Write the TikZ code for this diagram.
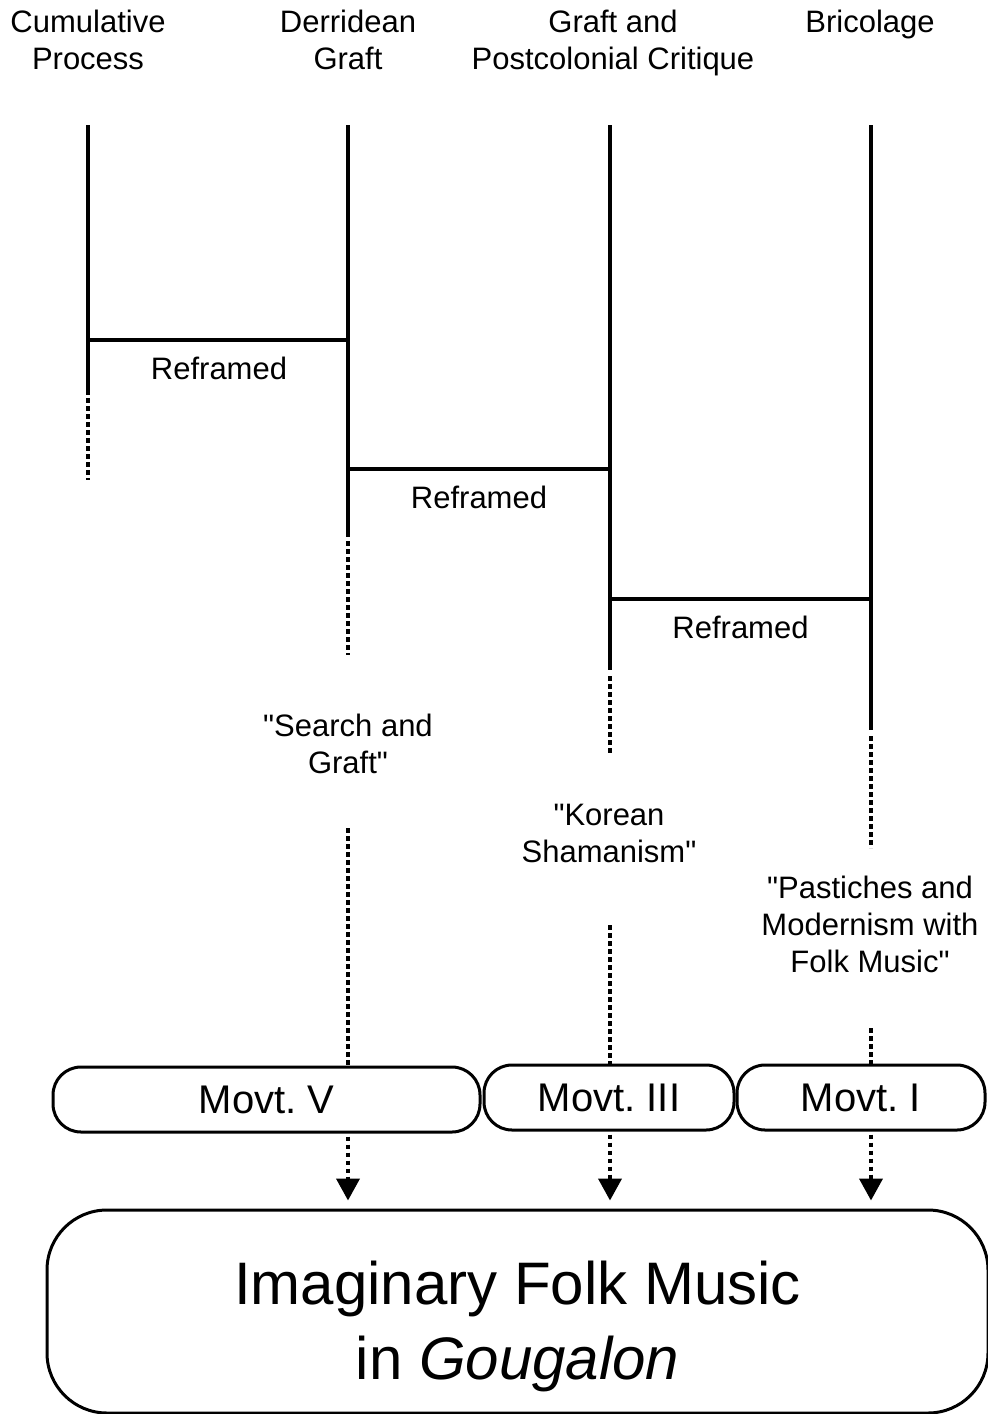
\documentclass[tikz,border=0pt]{standalone}
\usepackage{fontspec}
\setmainfont{Liberation Sans}[Ligatures=TeXOff]
\frenchspacing
\usetikzlibrary{arrows.meta}
\begin{document}
\begin{tikzpicture}[x=0.5pt,y=-0.5pt,
  head/.style={font=\fontsize{15.5}{18.5}\selectfont,align=center,inner sep=0pt},
  stem/.style={line width=2pt},
  trace/.style={line width=2pt,dash pattern=on 2.4pt off 1.6pt},
  movt/.style={draw,line width=1.5pt,rounded corners=14pt,minimum height=32.5pt,inner sep=0pt,font=\fontsize{20}{24}\selectfont},
  feed/.style={trace,-{Triangle[length=11pt,width=11.5pt]},shorten >=4pt}]
\useasboundingbox (0,0) rectangle (987,1414);
% column headers
\node[head,anchor=north] (cum) at (88,10) {Cumulative\\Process};
\node[head,anchor=north] (der) at (348,10) {Derridean\\Graft};
\node[head,anchor=north] (post) at (613,10) {Graft and\\Postcolonial Critique};
\node[head,anchor=north] (bri) at (870,10) {Bricolage};
% columns
\coordinate (c1) at (88,125); \coordinate (c2) at (348,125);
\coordinate (c3) at (610,125); \coordinate (c4) at (871,125);
\draw[stem] (c1) -- (88,395); \draw[trace] (88,398) -- (88,480);
\draw[stem] (c2) -- (348,537); \draw[trace] (348,541) -- (348,655);
\draw[stem] (c3) -- (610,670); \draw[trace] (610,676) -- (610,755);
\draw[stem] (c4) -- (871,730); \draw[trace] (871,736) -- (871,848);
% reframings
\draw[stem] (88,340) -- node[head,below=7.5pt] (r1) {Reframed} (350,340);
\draw[stem] (348,469) -- node[head,below=7.5pt] (r2) {Reframed} (610,469);
\draw[stem] (610,599) -- node[head,below=7.5pt] (r3) {Reframed} (871,599);
% movements
\node[head] (sg) at (348,744) {"Search and\\Graft"};
\node[head] (ks) at (609,833) {"Korean\\Shamanism"};
\node[head] (pm) at (870,924) {"Pastiches and\\Modernism with\\Folk Music"};
\node[movt,minimum width=213.5pt] (m5) at (266.5,1099.5) {Movt. V};
\node[movt,minimum width=125pt] (m3) at (609,1097.5) {Movt. III};
\node[movt,minimum width=124pt] (m1) at (861,1097.5) {Movt. I};
\draw[trace] (348,828) -- (m5.north -| c2);
\draw[trace] (610,925) -- (m3.north -| c3);
\draw[trace] (871,1028) -- (m1.north -| c4);
% result
\node[draw,line width=1.5pt,rounded corners=30pt,minimum width=470.5pt,minimum height=101.5pt] (big) at (517.5,1311.5) {};
\node[align=center,font=\fontsize{30}{37.5}\selectfont] (bigtxt) at ([yshift=-7.5pt]big.center)
  {Imaginary Folk Music\\in \textit{Gougalon}};
\draw[feed] ([yshift=-1.5pt]m5.south -| c2) -- (big.north -| c2);
\draw[feed] ([yshift=-1.5pt]m3.south -| c3) -- (big.north -| c3);
\draw[feed] ([yshift=-1.5pt]m1.south -| c4) -- (big.north -| c4);
\end{tikzpicture}
\end{document}
